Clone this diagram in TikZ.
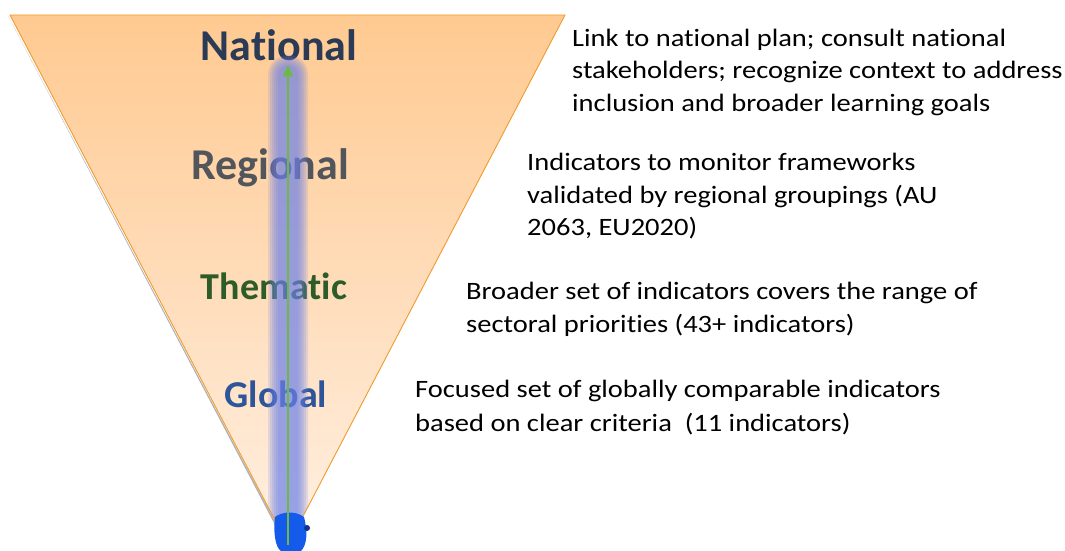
\documentclass[tikz,border=0pt]{standalone}
\usepackage{fontspec}
\setmainfont{Carlito}[RawFeature=-liga]
\newfontfamily\descfont{Carlito}[FakeStretch=1.14,RawFeature=-liga]
\usetikzlibrary{arrows.meta}
\definecolor{triTop}{RGB}{255,202,145}
\definecolor{triMid}{RGB}{255,220,185}
\definecolor{triBot}{RGB}{255,240,226}
\definecolor{triEdge}{RGB}{240,155,45}
\definecolor{glow}{RGB}{110,130,235}
\definecolor{blob}{RGB}{20,90,235}
\definecolor{arrowGreen}{RGB}{110,185,70}
\definecolor{cNat}{RGB}{43,58,85}
\definecolor{cReg}{RGB}{82,86,92}
\definecolor{cThe}{RGB}{45,92,40}
\definecolor{cGlo}{RGB}{45,85,152}
\tikzset{
  levellabel/.style={font=\fontsize{#1}{#1}\selectfont\bfseries, inner sep=0pt, anchor=center},
  desc/.style={font=\descfont\fontsize{25}{32.4}\selectfont, align=left, inner sep=0pt, anchor=north west},
}
\begin{document}
\begin{tikzpicture}[x=1pt,y=-1pt]
\useasboundingbox (0,0) rectangle (1065,551);
% triangle
\coordinate (tl) at (10,15);
\coordinate (tr) at (565,15);
\coordinate (apex) at (288,545);
\fill[gray!60] ([xshift=-2pt,yshift=-1pt]tl) -- ([xshift=-2pt,yshift=-1pt]apex) -- ([yshift=-1pt]apex) -- cycle;
\shade[top color=triTop, bottom color=triBot, middle color=triMid] (tl) -- (tr) -- (apex) -- cycle;
% level labels
\node[levellabel=44, text=cNat] (national) at (279,45) {National};
\node[levellabel=44, text=cReg] (regional) at (270,168) {Regional};
\node[levellabel=38, text=cThe] (thematic) at (274,286) {Thematic};
\node[levellabel=38, text=cGlo] (global) at (276,394) {Global};
% glow
\begin{scope}
\clip (tl) -- (tr) -- (apex) -- cycle;
\foreach \w in {20,18,16,14,12,10} {
  \fill[glow, opacity=0.18, rounded corners=\w pt] (288-\w,55+20-\w) rectangle (288+\w,548);
}
\end{scope}
\draw[triEdge, line width=0.9pt, line join=round] (tl) -- (tr) -- (apex) -- cycle;
% blue blob at apex
\fill[blob] (275,517) .. controls (273,535) and (276,548) .. (281,551) -- (301,551) .. controls (307,545) and (308,532) .. (304,517) .. controls (296,511) and (283,511) .. (275,517) -- cycle;
\fill[blob!60!black] (307,528) circle (3pt);
% arrow
\coordinate (arrowTop) at (288,65);
\draw[arrowGreen, line width=1.3pt, -{Triangle[length=11pt,width=10pt]}] (apex) -- (arrowTop);
% descriptions
\node[desc] (dNat) at (572,23.5) {\strut Link to national plan; consult national\\stakeholders; recognize context to address\\inclusion and broader learning goals};
\node[desc] (dReg) at (527,148) {\strut Indicators to monitor frameworks\\validated by regional groupings (AU\\2063, EU2020)};
\node[desc] (dThe) at (466,277) {\strut Broader set of indicators covers the range of\\sectoral priorities (43+ indicators)};
\node[desc, font=\descfont\fontsize{25}{34}\selectfont] (dGlo) at (415,373) {\strut Focused set of globally comparable indicators\\based on clear criteria\ \ (11 indicators)};
\end{tikzpicture}
\end{document}
